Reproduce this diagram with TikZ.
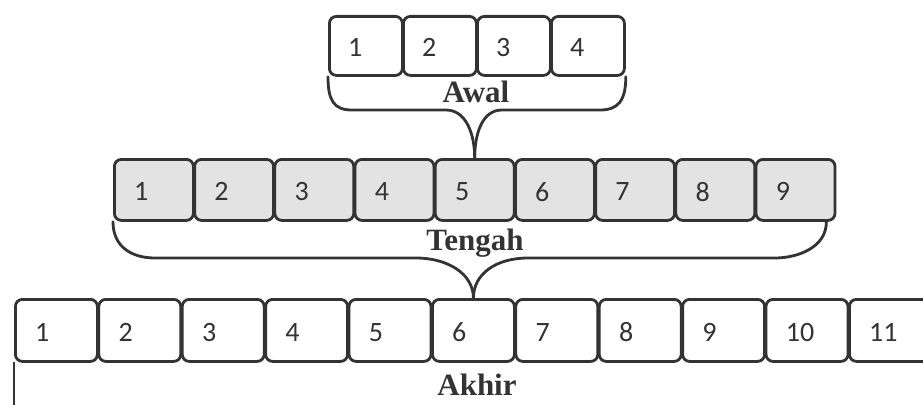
\documentclass[tikz,border=0pt]{standalone}
\usepackage{fontspec}
\setmainfont{Liberation Serif}
\newfontfamily\numfont{Carlito}
\definecolor{ink}{HTML}{333333}
\definecolor{cellgray}{HTML}{E3E3E3}
\begin{document}
\begin{tikzpicture}[x=1pt,y=-1pt,
  cell/.style={draw=ink, line width=2.8pt, rounded corners=7pt, anchor=north west, inner sep=0pt},
  num/.style={font=\numfont\fontsize{28}{28}\selectfont, text=ink, anchor=west, inner sep=0pt},
  caption/.style={font=\bfseries\fontsize{31}{31}\selectfont, text=ink, anchor=base, inner sep=0pt},
  brace/.style={draw=ink, line width=2.8pt, line join=round, line cap=round}]
\clip (0,0) rectangle (923,404);

% top row: Awal
\foreach \i in {1,...,4} {
  \node[cell, minimum width=73pt, minimum height=59pt] (t\i) at ({328+74*(\i-1)},15) {};
  \node[num] (tn\i) at ([xshift=20pt,yshift=-2pt]t\i.west) {\i};
}
% middle row: Tengah
\foreach \i in {1,...,9} {
  \node[cell, fill=cellgray, minimum width=79pt, minimum height=61pt] (m\i) at ({113+80.2*(\i-1)},158) {};
  \node[num] (mn\i) at ([xshift=21pt,yshift=-2pt]m\i.west) {\i};
}
% bottom row: Akhir
\foreach \i in {1,...,11} {
  \node[cell, minimum width=82pt, minimum height=62pt] (b\i) at ({14+83.4*(\i-1)},298) {};
  \node[num] (bn\i) at ([xshift=21pt,yshift=-2pt]b\i.west) {\i};
}

% braces
\draw[brace] (t1.south west) .. controls +(0,24) and +(-18,0) .. (352,110) -- (446,110)
  .. controls +(20,0) and +(0,-24) .. (m5.north);
\draw[brace] (m5.north) .. controls +(0,-24) and +(-20,0) .. (502,110) -- (600,110)
  .. controls +(18,0) and +(0,24) .. (t4.south east);

\draw[brace] (m1.south west) .. controls +(0,26) and +(-22,0) .. (155,258) -- (416,258)
  .. controls +(32,0) and +(0,-24) .. (b6.north);
\draw[brace] (b6.north) .. controls +(0,-24) and +(-32,0) .. (528,258) -- (775,258)
  .. controls +(22,0) and +(0,26) .. ([xshift=-10pt]m9.south east);

\coordinate (akhirend) at (14,420);
\draw[brace] (b1.south west) -- (akhirend);

% captions
\node[caption] (awal) at (476,102) {Awal};
\node[caption] (tengah) at (475,250) {Tengah};
\node[caption] (akhir) at (477,395) {Akhir};
\end{tikzpicture}
\end{document}
